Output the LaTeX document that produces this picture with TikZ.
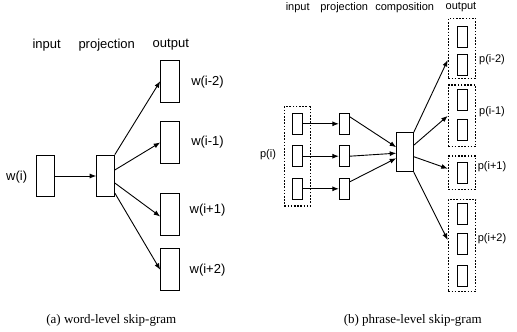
\documentclass[tikz,border=0pt]{standalone}
\usepackage{fontspec}
\setmainfont{Liberation Serif}
\newfontfamily\diagfont{Liberation Sans}
\usetikzlibrary{arrows.meta}
\begin{document}
\begin{tikzpicture}[x=1pt,y=-1pt,
  box/.style={draw,line width=1pt,inner sep=0pt,minimum width=17.6pt,minimum height=41.7pt},
  sbox/.style={draw,line width=1pt,inner sep=0pt,minimum width=10pt,minimum height=21pt},
  grp/.style={draw,line width=1.1pt,dash pattern=on 1.6pt off 1.6pt,inner sep=0pt},
  arr/.style={line width=0.9pt,-{Latex[length=6.5pt,width=5pt]}},
  lbl/.style={font=\diagfont\fontsize{13}{15}\selectfont,inner sep=0pt},
  slbl/.style={font=\diagfont\fontsize{11}{13}\selectfont,inner sep=0pt},
  captext/.style={font=\fontsize{13}{15}\selectfont,inner sep=0pt}]
\useasboundingbox (0,0) rectangle (517,332);
% ---------- left panel ----------
\node[lbl] (hin) at (46.7,45) {input};
\node[lbl] (hpr) at (106.7,45) {projection};
\node[lbl] (hout) at (170.8,45) {output};
\node[box] (in) at (45.5,176) {};
\node[box] (pr) at (105.5,176) {};
\node[box,minimum width=18.6pt,minimum height=42.3pt] (o1) at (170,81.2) {};
\node[box,minimum width=18.6pt,minimum height=42.3pt] (o2) at (170,142.5) {};
\node[box,minimum width=18.6pt,minimum height=42.3pt] (o3) at (170,214.5) {};
\node[box,minimum width=18.6pt,minimum height=42.3pt] (o4) at (170,269.8) {};
\node[lbl] (lwi) at (16.7,176.7) {w(i)};
\node[lbl] (l1) at (207.5,81.7) {w(i-2)};
\node[lbl] (l2) at (207.5,141.7) {w(i-1)};
\node[lbl] (l3) at (207.5,210) {w(i+1)};
\node[lbl] (l4) at (207.5,270) {w(i+2)};
\draw[arr] (in.east) -- (pr.west);
\draw[arr] (pr.north east) -- (o1.west);
\draw[arr] ([yshift=6pt]pr.east) -- (o2.west);
\draw[arr] ([yshift=-7pt]pr.east) -- ([yshift=-2pt]o3.west);
\draw[arr] ([yshift=-17pt]pr.east) -- (o4.west);
% ---------- right panel ----------
\node[slbl] (rhin) at (297.7,7.5) {input};
\node[slbl] (rhpr) at (344.2,7.5) {projection};
\node[slbl] (rhco) at (404.7,7.5) {composition};
\node[slbl] (rhout) at (461,7.5) {output};
% input group
\node[grp,minimum width=25.7pt,minimum height=99.3pt] (ig) at (297.2,156.35) {};
\node[sbox] (i1) at (297.3,123.8) {};
\node[sbox] (i2) at (297.3,156.2) {};
\node[sbox] (i3) at (297.3,188.8) {};
\node[sbox] (p1) at (344.3,123.8) {};
\node[sbox] (p2) at (344.3,156.2) {};
\node[sbox] (p3) at (344.3,188.8) {};
\node[box,minimum width=16.6pt,minimum height=39pt] (co) at (405,152.2) {};
\node[slbl] (lpi) at (268,155) {p(i)};
% output groups
\node[grp,minimum width=27.4pt,minimum height=60pt] (g1) at (462,48.3) {};
\node[grp,minimum width=27.4pt,minimum height=61.7pt] (g2) at (462,115.85) {};
\node[grp,minimum width=27.4pt,minimum height=33.3pt] (g3) at (462,172.65) {};
\node[grp,minimum width=27.4pt,minimum height=92.4pt] (g4) at (462,245.5) {};
\node[sbox] (q1) at (462.3,37) {};
\node[sbox] (q2) at (462.3,65) {};
\node[sbox] (q3) at (462.3,99.7) {};
\node[sbox] (q4) at (462.3,129.7) {};
\node[sbox] (q5) at (462.3,172.5) {};
\node[sbox] (q6) at (462.3,213.8) {};
\node[sbox] (q7) at (462.3,244.2) {};
\node[sbox] (q8) at (462.3,275.8) {};
\node[slbl] (m1) at (492,60) {p(i-2)};
\node[slbl] (m2) at (492,111.7) {p(i-1)};
\node[slbl] (m3) at (492,166.7) {p(i+1)};
\node[slbl] (m4) at (492,238.3) {p(i+2)};
\draw[arr] (i1.east) -- (p1.west);
\draw[arr] (i2.east) -- (p2.west);
\draw[arr] (i3.east) -- (p3.west);
\draw[arr] ([yshift=7pt]p1.east) -- ([yshift=5pt]co.west);
\draw[arr] (p2.east) -- ([yshift=-1pt]co.west);
\draw[arr] ([yshift=7pt]p3.east) -- ([yshift=-6pt]co.west);
\draw[arr] (co.north east) -- ([yshift=-11.7pt]g1.west);
\draw[arr] ([yshift=7pt]co.east) -- (g2.west);
\draw[arr] ([yshift=-4.5pt]co.east) -- ([yshift=4pt]g3.west);
\draw[arr] (co.south east) -- ([yshift=5.5pt]g4.west);
% captions
\node[captext] (ca) at (111.3,320) {(a) word-level skip-gram};
\node[captext] (cb) at (412.7,320) {(b) phrase-level skip-gram};
\end{tikzpicture}
\end{document}
